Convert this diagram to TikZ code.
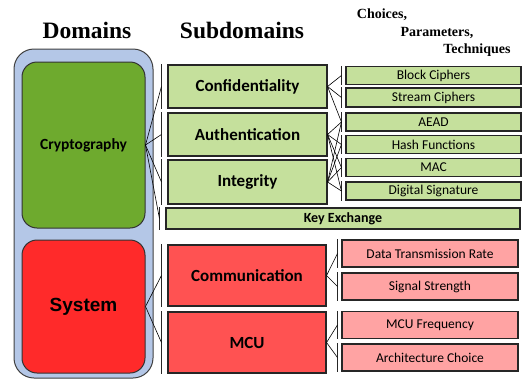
\documentclass[tikz,border=0pt]{standalone}
\usepackage{fontspec}
\setmainfont{Liberation Serif}
\newfontfamily\boxfont{Carlito}
\newfontfamily\sysfont{Liberation Sans}

\definecolor{outerblue}{HTML}{B4C7E7}
\definecolor{cryptgreen}{HTML}{6EAA2E}
\definecolor{lightgreen}{HTML}{C5E09C}
\definecolor{sysred}{HTML}{FF2A2A}
\definecolor{subred}{HTML}{FF5252}
\definecolor{lightred}{HTML}{FFA3A3}

\begin{document}
\begin{tikzpicture}[x=1pt,y=-1pt,
    domainbox/.style={draw=black!80, line width=1pt, rounded corners=15pt,
        minimum width=123pt, inner sep=0pt},
    subbox/.style={draw=black!85, line width=1.1pt, inner sep=0pt,
        minimum width=159pt, minimum height=43pt,
        font=\boxfont\bfseries\fontsize{17}{20}\selectfont},
    choicebox/.style={draw=black!85, line width=1.1pt, inner sep=0pt,
        minimum width=175pt, minimum height=18pt,
        font=\boxfont\fontsize{13.5}{15}\selectfont},
    headline/.style={font=\bfseries\fontsize{23.5}{27}\selectfont},
    subhead/.style={font=\bfseries\fontsize{14}{16}\selectfont},
    bar/.style={black!85, line width=1pt},
    link/.style={black, line width=0.6pt}]

    \useasboundingbox (0,0) rectangle (524,380);

    % headings
    \node [headline] (domhead) at (87,30) {Domains};
    \node [headline] (subhead) at (242,30) {Subdomains};
    \node [subhead] (choicehead) at (382,15) {Choices,};
    \node [subhead] (paramhead) at (437,33) {Parameters,};
    \node [subhead] (techhead) at (477,50) {Techniques};

    % domains
    \node [draw=black!75, line width=1pt, fill=outerblue, rounded corners=20pt,
        minimum width=139pt, minimum height=329pt, inner sep=0pt]
        (domains) at (83.5,213.5) {};
    \node [domainbox, fill=cryptgreen, minimum height=166pt,
        font=\boxfont\bfseries\fontsize{15.5}{18}\selectfont]
        (crypto) at (83.5,145) {Cryptography};
    \node [domainbox, fill=sysred, minimum height=133pt,
        font=\sysfont\bfseries\fontsize{19}{22}\selectfont]
        (system) at (83.5,306.5) {System};

    % subdomains
    \node [subbox, fill=lightgreen] (conf) at (247.5,86.5) {Confidentiality};
    \node [subbox, fill=lightgreen] (auth) at (247.5,134.5) {Authentication};
    \node [subbox, fill=lightgreen, minimum height=44pt] (integ) at (247.5,182) {Integrity};
    \node [subbox, fill=lightgreen, minimum width=354pt, minimum height=21pt,
        font=\boxfont\bfseries\fontsize{14}{16}\selectfont]
        (keyex) at (343,218.5) {Key Exchange};
    \node [subbox, fill=subred, minimum width=158pt, minimum height=61pt] (comm) at (247,275.5) {Communication};
    \node [subbox, fill=subred, minimum width=158pt, minimum height=61pt] (mcu) at (247,342.5) {MCU};

    % choices, parameters, techniques
    \node [choicebox, fill=lightgreen] (block) at (433.5,75.5) {Block Ciphers};
    \node [choicebox, fill=lightgreen, minimum height=19pt] (stream) at (433.5,97.5) {Stream Ciphers};
    \node [choicebox, fill=lightgreen] (aead) at (433.5,122) {AEAD};
    \node [choicebox, fill=lightgreen] (hash) at (433.5,144.5) {Hash Functions};
    \node [choicebox, fill=lightgreen] (mac) at (433.5,167.5) {MAC};
    \node [choicebox, fill=lightgreen] (dsig) at (433.5,191) {Digital Signature};
    \node [choicebox, fill=lightred, minimum width=176pt, minimum height=27pt] (rate) at (430,253.5) {Data Transmission Rate};
    \node [choicebox, fill=lightred, minimum width=176pt, minimum height=27pt] (signal) at (430,286.5) {Signal Strength};
    \node [choicebox, fill=lightred, minimum width=176pt, minimum height=27pt] (freq) at (430,325) {MCU Frequency};
    \node [choicebox, fill=lightred, minimum width=176pt, minimum height=27pt] (arch) at (430,357.5) {Architecture Choice};

    % brackets in front of the boxes
    \foreach \t in {conf,auth,integ,keyex,comm,mcu} {
        \draw [bar] ([xshift=-6pt]\t.north west) -- ([xshift=-6pt]\t.south west);
        \coordinate (\t-in) at ([xshift=-6pt]\t.west);
    }
    \foreach \t in {block,stream,aead,hash,mac,dsig,rate,signal,freq,arch} {
        \draw [bar] ([xshift=-4pt]\t.north west) -- ([xshift=-4pt]\t.south west);
        \coordinate (\t-in) at ([xshift=-4pt]\t.west);
    }

    % links
    \foreach \t in {conf,auth,integ,keyex}
        \draw [link] (crypto.east) -- (\t-in);
    \foreach \t in {comm,mcu}
        \draw [link] (system.east) -- (\t-in);
    \foreach \t in {block,stream,aead}
        \draw [link] (conf.east) -- (\t-in);
    \foreach \t in {aead,hash,mac,dsig} {
        \draw [link] (auth.east) -- (\t-in);
        \draw [link] (integ.east) -- (\t-in);
    }
    \foreach \t in {rate,signal}
        \draw [link] (comm.east) -- (\t-in);
    \foreach \t in {freq,arch}
        \draw [link] (mcu.east) -- (\t-in);

\end{tikzpicture}
\end{document}
